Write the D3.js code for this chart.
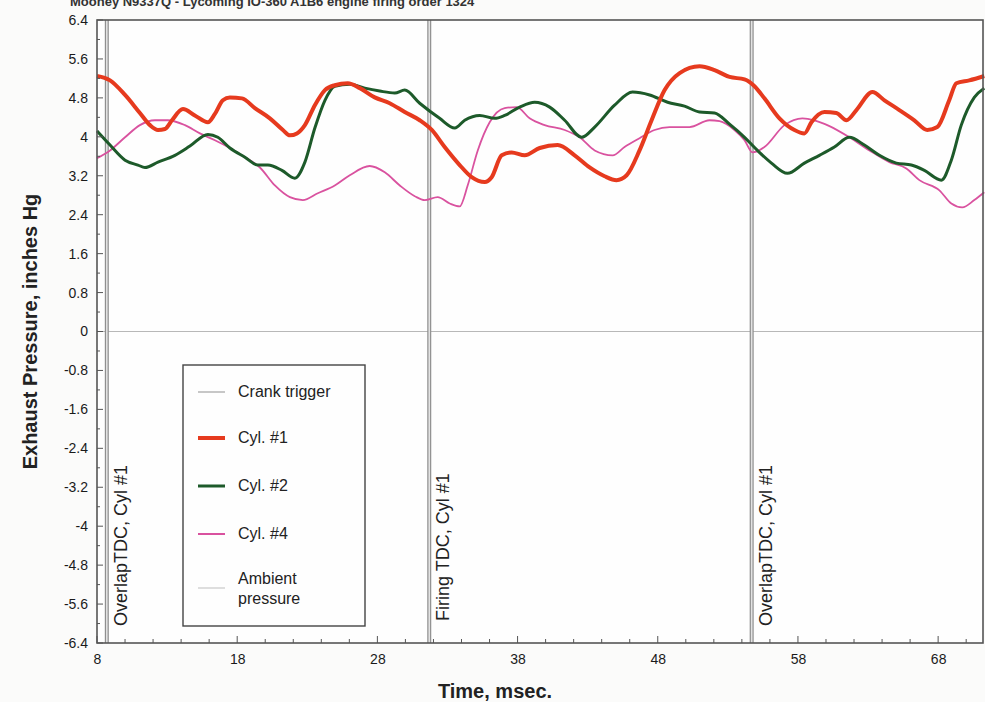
<!DOCTYPE html>
<html>
<head>
<meta charset="utf-8">
<script src="https://cdn.jsdelivr.net/npm/d3@7"></script>
<style>
  body { margin: 0; background: #fbfbfa; }
  svg { display: block; font-family: "Liberation Sans", Arial, sans-serif; }
</style>
</head>
<body>
<script>
// exhaust pulse traces, [time ms, pressure inHg]
const cyl1 = [
  [8.00, 5.25], [8.93, 5.16], [10.00, 4.86], [11.06, 4.49], [11.78, 4.24], [12.35, 4.14], [12.85, 4.16],
  [13.35, 4.34], [14.13, 4.57], [14.98, 4.44], [15.91, 4.30], [16.41, 4.47], [16.98, 4.75], [17.48, 4.81],
  [18.34, 4.79], [19.26, 4.59], [20.33, 4.38], [21.26, 4.14], [21.76, 4.03], [22.26, 4.07], [22.83, 4.24],
  [23.54, 4.65], [24.26, 4.96], [24.96, 5.06], [25.89, 5.10], [26.75, 5.00], [27.81, 4.81], [28.88, 4.69],
  [29.95, 4.51], [31.02, 4.34], [31.88, 4.14], [32.80, 3.79], [33.87, 3.42], [34.73, 3.17], [35.66, 3.07],
  [36.15, 3.17], [36.87, 3.62], [37.58, 3.68], [38.51, 3.62], [39.58, 3.77], [40.86, 3.83], [42.07, 3.62],
  [43.14, 3.37], [44.21, 3.19], [45.06, 3.11], [45.78, 3.21], [46.70, 3.72], [47.56, 4.34], [48.49, 4.96],
  [49.56, 5.31], [50.98, 5.45], [52.05, 5.37], [53.12, 5.23], [54.19, 5.18], [54.90, 5.04], [55.61, 4.79],
  [56.68, 4.38], [57.75, 4.14], [58.46, 4.07], [58.96, 4.30], [59.89, 4.51], [60.74, 4.49], [61.46, 4.34],
  [62.17, 4.55], [63.31, 4.92], [64.17, 4.75], [65.23, 4.55], [66.30, 4.34], [67.23, 4.14], [67.94, 4.20],
  [68.79, 4.75], [69.30, 5.10], [70.22, 5.16], [71.29, 5.25]
]
const cyl2 = [
  [8.00, 4.12], [8.93, 3.83], [10.00, 3.52], [10.92, 3.42], [11.42, 3.37], [12.35, 3.48], [13.56, 3.62],
  [14.63, 3.81], [15.91, 4.05], [16.62, 3.99], [17.48, 3.77], [18.55, 3.58], [19.48, 3.42], [20.19, 3.42],
  [21.19, 3.31], [22.11, 3.15], [22.83, 3.48], [23.54, 4.18], [24.26, 4.75], [24.96, 5.04], [26.03, 5.08],
  [27.10, 5.00], [28.17, 4.94], [29.24, 4.90], [29.95, 4.96], [31.02, 4.69], [32.44, 4.38], [33.52, 4.18],
  [34.23, 4.34], [35.30, 4.44], [36.37, 4.38], [37.08, 4.44], [38.15, 4.61], [39.22, 4.71], [40.29, 4.61],
  [41.36, 4.34], [42.57, 3.99], [43.50, 4.20], [44.92, 4.65], [46.20, 4.92], [47.42, 4.86], [48.70, 4.71],
  [49.91, 4.63], [50.98, 4.51], [52.05, 4.49], [53.12, 4.26], [54.19, 3.99], [55.11, 3.72], [56.11, 3.46],
  [57.25, 3.25], [58.46, 3.46], [59.53, 3.62], [60.60, 3.79], [61.67, 3.99], [62.74, 3.83], [63.81, 3.62],
  [65.02, 3.46], [66.09, 3.42], [67.02, 3.31], [68.23, 3.11], [68.94, 3.52], [69.65, 4.24], [70.58, 4.81],
  [71.29, 5.00]
]
const cyl4 = [
  [8.00, 3.56], [8.93, 3.72], [10.00, 3.99], [11.06, 4.24], [12.13, 4.34], [13.06, 4.34], [14.27, 4.24],
  [15.34, 4.07], [16.41, 3.93], [17.48, 3.77], [18.55, 3.58], [19.62, 3.37], [20.69, 3.00], [21.76, 2.76],
  [22.68, 2.70], [23.75, 2.84], [24.96, 3.00], [26.03, 3.21], [27.45, 3.40], [28.53, 3.27], [29.60, 3.00],
  [30.67, 2.78], [31.38, 2.70], [32.30, 2.76], [33.16, 2.63], [33.87, 2.57], [34.44, 3.00], [35.16, 3.72],
  [36.01, 4.30], [37.08, 4.59], [37.94, 4.61], [38.86, 4.38], [39.93, 4.24], [41.36, 4.14], [42.43, 3.99],
  [43.50, 3.72], [44.78, 3.62], [45.63, 3.79], [46.70, 3.97], [47.77, 4.14], [48.84, 4.20], [50.27, 4.20],
  [51.69, 4.34], [52.41, 4.32], [53.47, 4.14], [54.19, 3.93], [54.76, 3.68], [55.61, 3.79], [57.04, 4.24],
  [58.32, 4.38], [59.18, 4.34], [60.25, 4.22], [61.67, 3.99], [63.10, 3.72], [64.52, 3.48], [65.73, 3.35],
  [66.66, 3.11], [68.09, 2.90], [68.94, 2.63], [69.72, 2.55], [70.58, 2.70], [71.29, 2.86]
]

const crankTimes = [8.7, 31.7, 54.7]
const tdcLabels = ['OverlapTDC, Cyl #1', 'Firing TDC, Cyl #1', 'OverlapTDC, Cyl #1']
const xTicks = [8, 18, 28, 38, 48, 58, 68]
const yTicks = [6.4, 5.6, 4.8, 4, 3.2, 2.4, 1.6, 0.8, 0, -0.8, -1.6, -2.4, -3.2, -4, -4.8, -5.6, -6.4]
const legendNames = ['Crank trigger', 'Cyl. #1', 'Cyl. #2', 'Cyl. #4', 'Ambient|pressure']

const WIDTH = 985
const HEIGHT = 702
const margin = { top: 20, right: 2, bottom: 59, left: 97 }

const series = [
  { name: 'Cyl. #4', data: cyl4, color: '#d9529f', width: 1.8 },
  { name: 'Cyl. #2', data: cyl2, color: '#1d5a2a', width: 3 },
  { name: 'Cyl. #1', data: cyl1, color: '#e63a1e', width: 4 }
]

const x = d3.scaleLinear().domain([8, 71.2]).range([margin.left, WIDTH - margin.right])
const y = d3.scaleLinear().domain([-6.4, 6.4]).range([HEIGHT - margin.bottom, margin.top])

const svg = d3.select('body').append('svg')
  .attr('width', WIDTH)
  .attr('height', HEIGHT)

svg.append('rect').attr('width', WIDTH).attr('height', HEIGHT).attr('fill', '#fbfbfa')

// title, mostly cropped off the top of the scan
svg.append('text')
  .attr('x', 70)
  .attr('y', 6)
  .attr('font-size', 13)
  .attr('font-weight', 'bold')
  .attr('fill', '#333')
  .text('Mooney N9337Q - Lycoming IO-360 A1B6 engine  firing order  1324')

// plot background
svg.append('rect')
  .attr('x', x(8)).attr('y', y(6.4))
  .attr('width', x(71.2) - x(8)).attr('height', y(-6.4) - y(6.4))
  .attr('fill', '#fefefe')

// ambient pressure
svg.append('line')
  .attr('x1', x(8)).attr('x2', x(71.2))
  .attr('y1', y(0)).attr('y2', y(0))
  .attr('stroke', '#b8b8b8').attr('stroke-width', 1.2)

// crank trigger lines
const crank = svg.append('g')
crank.selectAll('line.outer')
  .data(crankTimes)
  .enter().append('line')
  .attr('class', 'outer')
  .attr('x1', d => x(d)).attr('x2', d => x(d))
  .attr('y1', y(6.4)).attr('y2', y(-6.4))
  .attr('stroke', '#8f8f8f').attr('stroke-width', 4)
crank.selectAll('line.inner')
  .data(crankTimes)
  .enter().append('line')
  .attr('class', 'inner')
  .attr('x1', d => x(d)).attr('x2', d => x(d))
  .attr('y1', y(6.4)).attr('y2', y(-6.4))
  .attr('stroke', '#e2e2e2').attr('stroke-width', 1.6)

svg.selectAll('text.tdc')
  .data(crankTimes)
  .enter().append('text')
  .attr('class', 'tdc')
  .attr('transform', (d, i) => `translate(${x(d) + 20},${i === 1 ? 621 : 626}) rotate(-90)`)
  .attr('font-size', 18)
  .attr('fill', '#222')
  .text((d, i) => tdcLabels[i])

// traces
const line = d3.line().x(d => x(d[0])).y(d => y(d[1])).curve(d3.curveMonotoneX)
svg.append('g').selectAll('path')
  .data(series)
  .enter().append('path')
  .attr('d', d => line(d.data))
  .attr('fill', 'none')
  .attr('stroke', d => d.color)
  .attr('stroke-width', d => d.width)
  .attr('stroke-linejoin', 'round')

// frame
svg.append('rect')
  .attr('x', x(8)).attr('y', y(6.4))
  .attr('width', x(71.2) - x(8)).attr('height', y(-6.4) - y(6.4))
  .attr('fill', 'none').attr('stroke', '#555').attr('stroke-width', 1.6)

// axes, ticks pointing in; plain hyphen minus like the original
const yAxis = d3.axisLeft(y).tickValues(yTicks).tickSize(0).tickPadding(9).tickFormat(d => String(d))
const yg = svg.append('g').attr('transform', `translate(${x(8)},0)`).call(yAxis)
yg.select('.domain').remove()
yg.selectAll('text').attr('font-size', 14).attr('fill', '#1a1a1a').attr('font-family', '"Liberation Sans", Arial, sans-serif')
svg.append('g').selectAll('line')
  .data(d3.range(-16, 17).map(i => i * 0.4))
  .enter().append('line')
  .attr('x1', x(8)).attr('x2', (d, i) => x(8) + (i % 2 === 0 ? 6 : 3))
  .attr('y1', d => y(d)).attr('y2', d => y(d))
  .attr('stroke', '#555').attr('stroke-width', 1)

const xAxis = d3.axisBottom(x).tickValues(xTicks).tickSize(0).tickPadding(11).tickFormat(d3.format('d'))
const xg = svg.append('g').attr('transform', `translate(0,${y(-6.4)})`).call(xAxis)
xg.select('.domain').remove()
xg.selectAll('text').attr('font-size', 14).attr('fill', '#1a1a1a').attr('font-family', '"Liberation Sans", Arial, sans-serif')
svg.append('g').selectAll('line')
  .data(d3.range(8, 72, 2))
  .enter().append('line')
  .attr('x1', d => x(d)).attr('x2', d => x(d))
  .attr('y1', y(-6.4)).attr('y2', d => y(-6.4) - ((d - 8) % 10 === 0 ? 7 : 4))
  .attr('stroke', '#555').attr('stroke-width', 1)

svg.append('text')
  .attr('transform', `translate(37,${(y(6.4) + y(-6.4)) / 2}) rotate(-90)`)
  .attr('text-anchor', 'middle')
  .attr('font-size', 20)
  .attr('font-weight', 'bold')
  .attr('fill', '#222')
  .text('Exhaust Pressure, inches Hg')

svg.append('text')
  .attr('x', 495)
  .attr('y', 698)
  .attr('text-anchor', 'middle')
  .attr('font-size', 20)
  .attr('font-weight', 'bold')
  .attr('fill', '#222')
  .text('Time, msec.')

// legend
const legendColors = ['#b5b5b5', '#e63a1e', '#1d5a2a', '#d9529f', '#c8c8c8']
const legendWidths = [1.5, 4, 3, 2, 1.2]
const legendY = [392, 438, 486, 534, 588]
const legend = svg.append('g')
legend.append('rect')
  .attr('x', 183).attr('y', 365).attr('width', 182).attr('height', 261)
  .attr('fill', '#fefefe').attr('stroke', '#444').attr('stroke-width', 1.4)
legendNames.forEach((name, i) => {
  legend.append('line')
    .attr('x1', 198).attr('x2', 225)
    .attr('y1', legendY[i]).attr('y2', legendY[i])
    .attr('stroke', legendColors[i]).attr('stroke-width', legendWidths[i])
  const parts = name.split('|')
  const t = legend.append('text')
    .attr('x', 238)
    .attr('y', legendY[i] + 5 - (parts.length - 1) * 9)
    .attr('font-size', 16)
    .attr('fill', '#222')
  parts.forEach((p, j) => {
    t.append('tspan').attr('x', 238).attr('dy', j === 0 ? 0 : 20).text(p)
  })
})
</script>
</body>
</html>
